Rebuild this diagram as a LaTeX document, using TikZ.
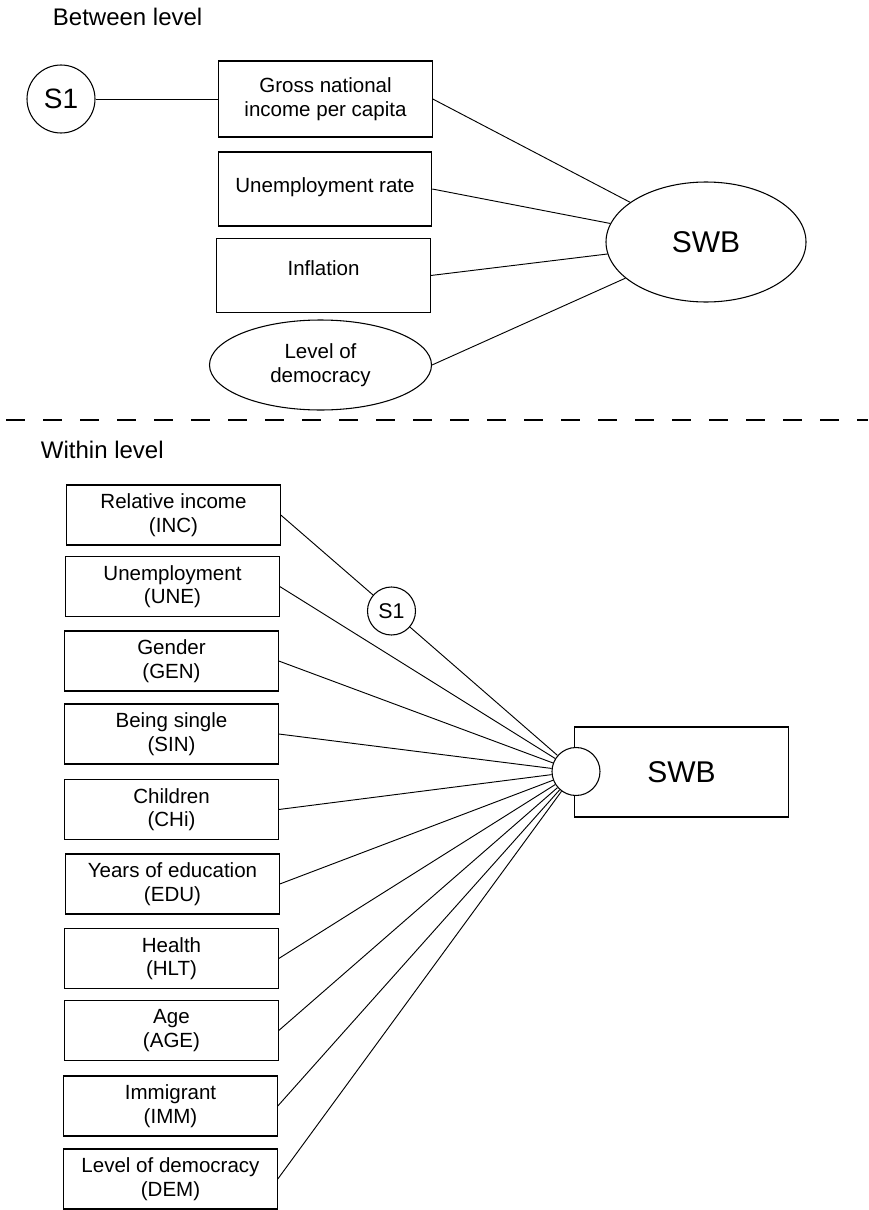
\documentclass[tikz,border=0pt]{standalone}
\usepackage{fontspec}
\setmainfont{Liberation Sans}
\usepackage{tikz}
\usetikzlibrary{shapes.geometric}

\begin{document}
\begin{tikzpicture}[x=0.75pt,y=-0.75pt,
  every node/.style={font=\fontsize{15.4}{17.6}\selectfont,align=center,inner sep=2pt},
  box/.style={draw,line width=0.9pt,minimum width=160pt},
  smallbox/.style={box,minimum height=45pt},
  latent/.style={draw,circle,line width=0.8pt,fill=white,inner sep=0pt},
  oval/.style={draw,ellipse,line width=0.8pt},
  title/.style={anchor=base west,font=\fontsize{18}{20}\selectfont},
  big/.style={font=\fontsize{22.5}{26}\selectfont},
  path/.style={line width=0.7pt}]
\useasboundingbox (0,0) rectangle (868,1210);
\node[title] (btitle) at (50,25) {Between level};
\node[latent,minimum size=51pt,font=\fontsize{21}{24}\selectfont] (s1b) at (61,99) {S1};
\node[box,minimum height=57pt] (gni) at (325.5,99) {Gross national\\income per capita};
\node[box,minimum height=55.5pt,text height=11.2pt,text depth=6.2pt] (unr) at (325,189) {Unemployment rate};
\node[box,minimum height=55pt,text height=11.2pt,text depth=10.7pt] (inf) at (323.5,275.5) {Inflation};
\node[oval,minimum width=166.5pt,minimum height=67.5pt] (demb) at (320.5,365) {Level of\\democracy};
\node[oval,big,minimum width=150pt,minimum height=90pt] (swbb) at (706,242) {SWB};
\draw[path] (s1b) -- (gni);
\foreach \n in {gni,unr,inf,demb}
  \draw[path] (\n.east) -- (swbb);

\draw[line width=1pt,dash pattern=on 14.25pt off 13.5pt,dash phase=23.25pt] (0,420) -- (868,420);

\node[title] (wtitle) at (38,458) {Within level};
\node[box,big,minimum height=67.5pt] (swbw) at (681.5,772) {SWB};
\node[latent,minimum size=36pt] (hub) at (576,771.5) {};
\node[latent,minimum size=36pt,font=\fontsize{16}{18}\selectfont] (s1w) at (391.5,611) {S1};
\foreach \y/\x/\n/\to/\t in {
    515/173.5/inc/s1w/{Relative income\\(INC)},
    586.5/172.5/une/hub/{Unemployment\\(UNE)},
    661/171.5/gen/hub/{Gender\\(GEN)},
    734/171.5/sin/hub/{Being single\\(SIN)},
    809.5/171.5/chi/hub/{Children\\(CHi)},
    884/172.5/edu/hub/{Years of education\\(EDU)},
    958.5/171.5/hlt/hub/{Health\\(HLT)},
    1030.5/171.5/age/hub/{Age\\(AGE)},
    1106/170.5/imm/hub/{Immigrant\\(IMM)},
    1179/170.5/dem/hub/{Level of democracy\\(DEM)}}{
  \node[smallbox] (\n) at (\x,\y) {\t};
  \draw[path] (\n.east) -- (\to);
}
\draw[path] (s1w) -- (hub);
\end{tikzpicture}
\end{document}
